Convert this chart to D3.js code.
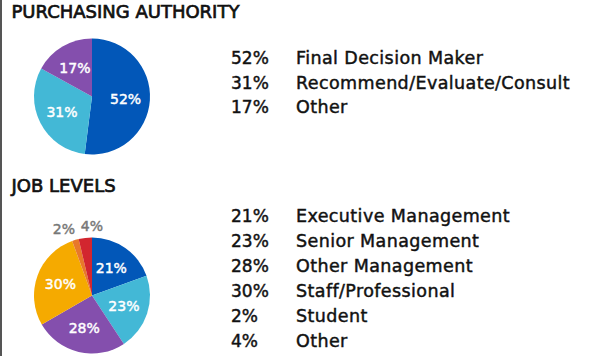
<!DOCTYPE html>
<html><head><meta charset="utf-8">
<script src="https://cdn.jsdelivr.net/npm/d3@7/dist/d3.min.js"></script>
<style>
html,body{margin:0;padding:0;background:#fff;}
svg{display:block;}
text{font-family:"DejaVu Sans",sans-serif;}
</style></head>
<body>
<script>
const purchaseLabels = ["Final Decision Maker", "Recommend/Evaluate/Consult", "Other"];
const purchaseValues = [52, 31, 17];
const purchaseColors = ["#0257b8", "#43b8d6", "#844fad"];

const jobLabels = ["Executive Management", "Senior Management", "Other Management", "Staff/Professional", "Student", "Other"];
const jobValues = [21, 23, 28, 30, 2, 4];
const jobColors = ["#0257b8", "#43b8d6", "#844fad", "#f5aa00", "#e8782a", "#d2262f"];

const W = 592, H = 356;
const svg = d3.select("body").append("svg").attr("width", W).attr("height", H);

svg.append("rect").attr("x", 0).attr("y", 0).attr("width", 2).attr("height", H).attr("fill", "#555");

function medium(sel, color, sw) {
  sel.attr("fill", color).attr("stroke", color).attr("stroke-width", sw || 0.45).attr("paint-order", "stroke");
}

function section(title, titleY, labels, values, colors, cy, legendY0, legendStep) {
  svg.append("text").attr("x", 11.5).attr("y", titleY)
    .attr("font-size", 18).call(medium, "#111", 0.7)
    .text(title);

  const r = 58, cx = 92;
  const pie = d3.pie().sort(null).value(d => d);
  const arcs = pie(values);
  const arc = d3.arc().innerRadius(0).outerRadius(r);
  const inLabel = d3.arc().innerRadius(r * 0.58).outerRadius(r * 0.58);
  const outLabel = d3.arc().innerRadius(r * 1.2).outerRadius(r * 1.2);
  const g = svg.append("g").attr("transform", `translate(${cx},${cy})`);
  g.selectAll("path").data(arcs).join("path")
    .attr("d", arc).attr("fill", (d, i) => colors[i]);

  const total = d3.sum(values);
  const big = arcs.filter(d => d.data / total >= 0.08);
  const small = arcs.filter(d => d.data / total < 0.08);
  g.selectAll("text.in").data(big).join("text").attr("class", "in")
    .attr("transform", d => `translate(${inLabel.centroid(d)})`)
    .attr("text-anchor", "middle").attr("dy", "0.36em")
    .attr("font-size", 14).call(medium, "#fff")
    .text(d => d.data + "%");

  // outside labels with simple horizontal spreading
  const pos = small.map(d => ({d, p: outLabel.centroid(d)}));
  pos.sort((a, b) => a.p[0] - b.p[0]);
  const minSep = 28;
  for (let k = 1; k < pos.length; k++) {
    const gap = pos[k].p[0] - pos[k - 1].p[0];
    if (gap < minSep) {
      const s = (minSep - gap) / 2;
      pos[k - 1].p[0] -= s; pos[k].p[0] += s;
    }
  }
  g.selectAll("text.out").data(pos).join("text").attr("class", "out")
    .attr("transform", o => `translate(${o.p})`)
    .attr("text-anchor", "middle").attr("dy", "0.36em")
    .attr("font-size", 14).call(medium, "#777")
    .text(o => o.d.data + "%");

  const y = d3.scaleLinear().domain([0, 1]).range([legendY0, legendY0 + legendStep]);
  const lg = svg.append("g");
  lg.selectAll("text.pct").data(values).join("text").attr("class", "pct")
    .attr("x", 231).attr("y", (d, i) => y(i))
    .attr("font-size", 17).call(medium, "#111")
    .text(d => d + "%");
  lg.selectAll("text.lbl").data(labels).join("text").attr("class", "lbl")
    .attr("x", 296).attr("y", (d, i) => y(i))
    .attr("font-size", 17.5).attr("letter-spacing", 0.4).call(medium, "#111")
    .text(d => d);
}

section("PURCHASING AUTHORITY", 18.3, purchaseLabels, purchaseValues, purchaseColors, 96.5, 64, 24.5);
section("JOB LEVELS", 191.7, jobLabels, jobValues, jobColors, 295.5, 222, 25);
</script>
</body></html>
